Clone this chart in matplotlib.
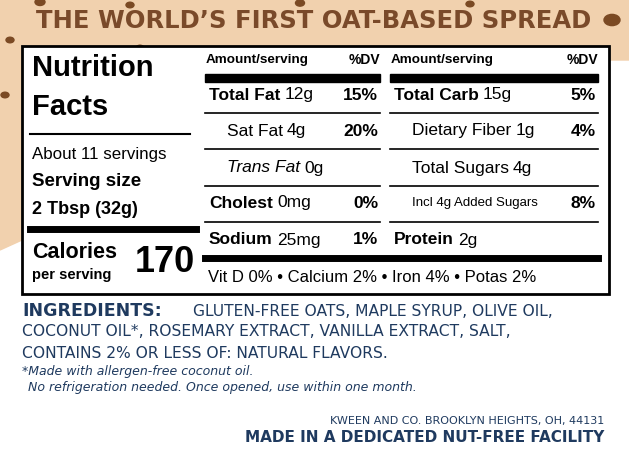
import matplotlib
matplotlib.use("Agg")
import matplotlib.pyplot as plt
from matplotlib.patches import Polygon, Rectangle, Ellipse

header = "THE WORLD’S FIRST OAT-BASED SPREAD"
left_rows = [("Total Fat", "12g", "15%"), ("Sat Fat", "4g", "20%"), ("Trans Fat", "0g", ""),
             ("Cholest", "0mg", "0%"), ("Sodium", "25mg", "1%")]
right_rows = [("Total Carb", "15g", "5%"), ("Dietary Fiber", "1g", "4%"), ("Total Sugars", "4g", ""),
              ("Incl 4g Added Sugars", "", "8%"), ("Protein", "2g", "")]
calories = "170"
vitamins = "Vit D 0% • Calcium 2% • Iron 4% • Potas 2%"

fig = plt.figure(figsize=(6.29, 4.5), dpi=100)
ax = fig.add_axes([0, 0, 1, 1])
ax.set_xlim(0, 629); ax.set_ylim(450, 0); ax.axis("off")
NF = ["Liberation Sans", "DejaVu Sans"]
BR = "#7a4a2a"; NAVY = "#1f3a5f"

ax.add_patch(Polygon([(0, 0), (629, 0), (629, 60), (560, 60), (520, 70), (22, 75), (22, 240), (0, 250)],
                     closed=True, color="#f1d1ae", zorder=0))
for (x, y, w) in [(40, 2, 10), (130, 5, 8), (300, 3, 9), (470, 4, 8), (612, 20, 16), (10, 40, 8),
                  (590, 55, 12), (140, 48, 8), (420, 50, 8), (520, 50, 8), (5, 95, 8)]:
    ax.add_patch(Ellipse((x, y), w, w * 0.7, color="#7b4a24", zorder=1))
ax.text(314, 21, header, ha="center", va="center", fontsize=17.5, fontweight="bold", color=BR, family="DejaVu Sans")

ax.add_patch(Rectangle((22, 46), 587, 248, facecolor="white", edgecolor="black", lw=2, zorder=2))
T = dict(zorder=3, family=NF, va="center")
ax.text(32, 68, "Nutrition", fontsize=21, fontweight="bold", **T)
ax.text(32, 107, "Facts", fontsize=21, fontweight="bold", **T)
ax.plot([30, 190], [134, 134], color="black", lw=1.5, zorder=3)
ax.text(32, 155, "About 11 servings", fontsize=12.2, **T)
ax.text(32, 182, "Serving size", fontsize=13.5, fontweight="bold", **T)
ax.text(32, 210, "2 Tbsp (32g)", fontsize=13, fontweight="bold", **T)
ax.plot([30, 196], [229, 229], color="black", lw=5, zorder=3)
ax.text(32, 252, "Calories", fontsize=15.5, fontweight="bold", **T)
ax.text(32, 275, "per serving", fontsize=10.5, fontweight="bold", **T)
ax.text(195, 263, calories, fontsize=26, fontweight="bold", ha="right", zorder=3, family=NF, va="center")

ys = [95, 131, 168, 203, 240]
lines = [113, 149, 186, 222]
def col(x0, x1, rows, bold_first):
    ax.text(x0 + 1, 60, "Amount/serving", fontsize=9.7, fontweight="bold", **T)
    ax.text(x1, 60, "%DV", fontsize=10, fontweight="bold", ha="right", zorder=3, family=NF, va="center")
    ax.add_patch(Rectangle((x0, 74), x1 - x0, 8, color="black", zorder=3))
    for y in lines:
        ax.plot([x0, x1], [y, y], color="black", lw=1.2, zorder=3)
    for i, (name, amt, dv) in enumerate(rows):
        y = ys[i]
        bold = i in bold_first
        indent = 0 if bold else 18
        fs = 9.5 if name.startswith("Incl") else 12.5
        t = ax.text(x0 + 4 + indent, y, name, fontsize=fs, fontweight="bold" if bold else "normal",
                    style="italic" if name.startswith("Trans") else "normal", **T)
        if amt:
            fig.canvas.draw()
            bb = t.get_window_extent().transformed(ax.transData.inverted())
            ax.text(bb.x1 + 4, y, amt, fontsize=12.5, **T)
        if dv:
            ax.text(x1 - 2, y, dv, fontsize=12.5, fontweight="bold", ha="right", zorder=3, family=NF, va="center")
col(205, 380, left_rows, {0, 3, 4})
col(390, 598, right_rows, {0, 4})
ax.plot([205, 598], [258, 258], color="black", lw=5, zorder=3)
ax.text(208, 277, vitamins, fontsize=12, **T)

S = dict(family="DejaVu Sans", va="center", color=NAVY)
ax.text(22, 311, "INGREDIENTS:", fontsize=12.5, fontweight="bold", **S)
ax.text(193, 311, "GLUTEN-FREE OATS, MAPLE SYRUP, OLIVE OIL,", fontsize=11.2, **S)
ax.text(22, 332, "COCONUT OIL*, ROSEMARY EXTRACT, VANILLA EXTRACT, SALT,", fontsize=11.2, **S)
ax.text(22, 354, "CONTAINS 2% OR LESS OF: NATURAL FLAVORS.", fontsize=11.2, **S)
ax.text(22, 372, "*Made with allergen-free coconut oil.", fontsize=9, style="italic", **S)
ax.text(24, 387, " No refrigeration needed. Once opened, use within one month.", fontsize=9, style="italic", **S)
ax.text(604, 421, "KWEEN AND CO. BROOKLYN HEIGHTS, OH, 44131", fontsize=8, ha="right", **S)
ax.text(604, 438, "MADE IN A DEDICATED NUT-FREE FACILITY", fontsize=11, fontweight="bold", ha="right", **S)
fig.savefig("out.png", dpi=100)
